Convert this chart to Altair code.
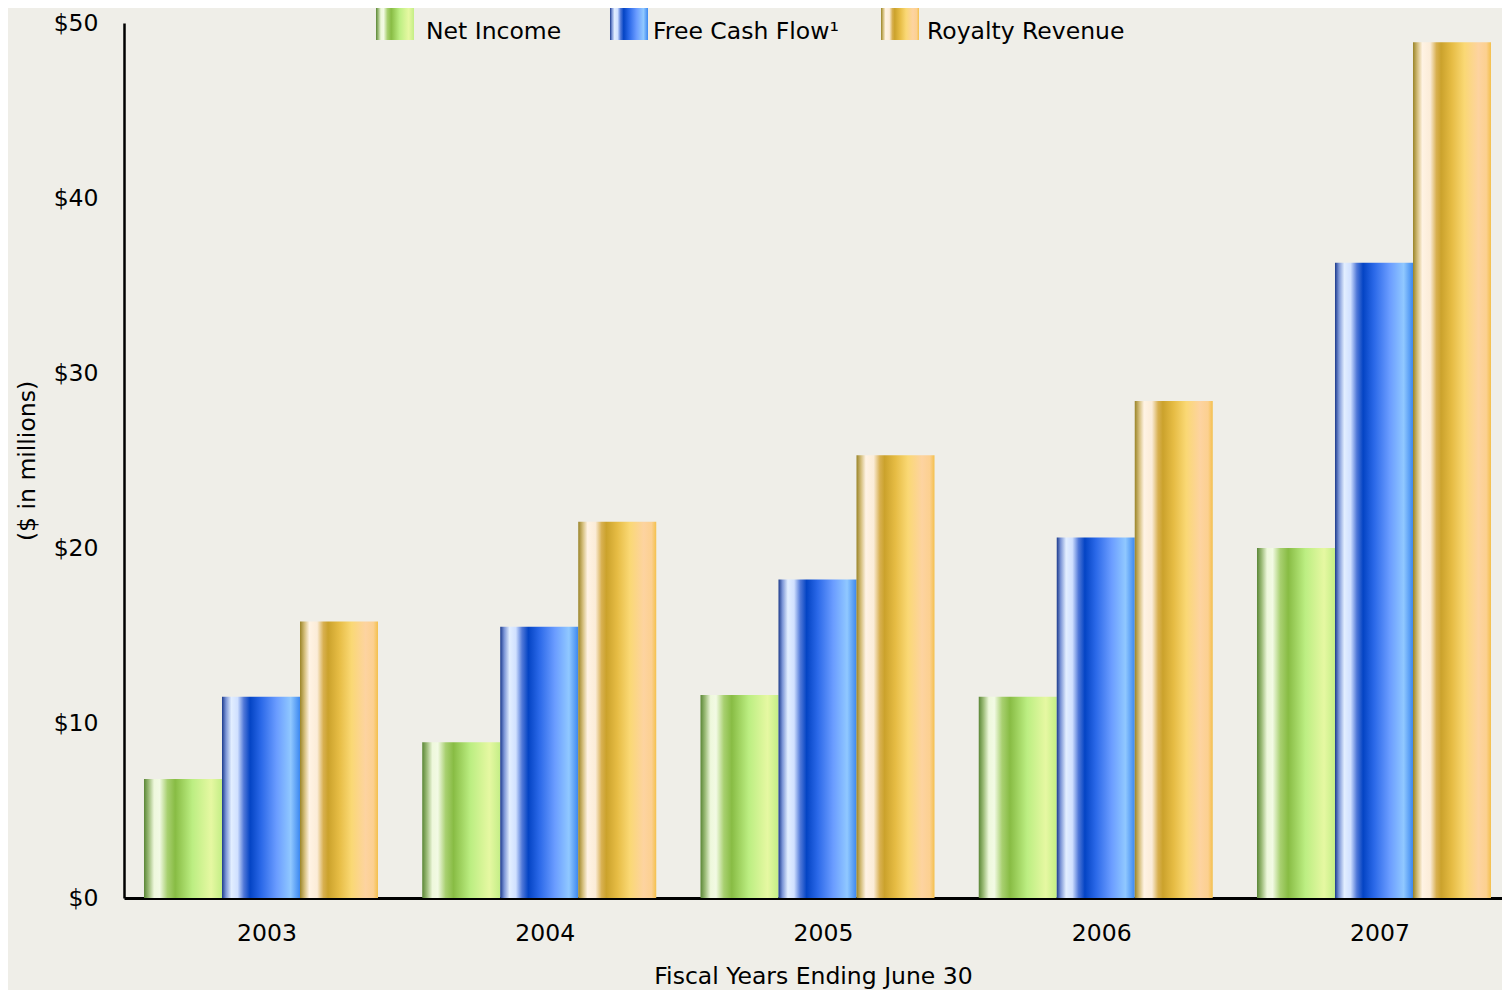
import altair as alt
import pandas as pd

years = ["2003", "2004", "2005", "2006", "2007"]
series = ["Net Income", "Free Cash Flow¹", "Royalty Revenue"]
net_income = [6.8, 8.9, 11.6, 11.5, 20.0]
free_cash_flow = [11.5, 15.5, 18.2, 20.6, 36.3]
royalty_revenue = [15.8, 21.5, 25.3, 28.4, 48.9]

rows = []
for name, vals in zip(series, [net_income, free_cash_flow, royalty_revenue]):
    for y, v in zip(years, vals):
        rows.append({"year": y, "series": name, "value": v})
df = pd.DataFrame(rows)

FONT = "DejaVu Sans"
FS = 23.5

def grad(stops):
    return {"gradient": "linear", "x1": 0, "x2": 1, "y1": 0, "y2": 0,
            "stops": [{"offset": o, "color": c} for o, c in stops]}

g_green = grad([(0, "#5a8636"), (0.06, "#9cbc78"), (0.13, "#eef8dc"), (0.2, "#f2fae4"),
                (0.3, "#a8d070"), (0.4, "#88bc44"), (0.62, "#bcee82"), (0.86, "#e6f8a2"), (1, "#c4ee86")])
g_blue = grad([(0, "#1c3a8c"), (0.05, "#7a94d6"), (0.12, "#e2eeff"), (0.2, "#d0e0ff"),
               (0.28, "#5078d8"), (0.36, "#0444c4"), (0.5, "#2a68e8"), (0.7, "#6a9cff"),
               (0.88, "#90c8ff"), (1, "#3c88f0")])
g_gold = grad([(0, "#9a8428"), (0.06, "#d6c07e"), (0.12, "#fff3e4"), (0.22, "#fbecd8"),
               (0.3, "#d8b050"), (0.36, "#cba22c"), (0.5, "#e6bc44"), (0.66, "#fad874"),
               (0.84, "#fdd3a0"), (0.94, "#fcd090"), (1, "#f4c04c")])
grads = [g_green, g_blue, g_gold]
legend_x = [247, 481, 752]
label_offsets = [7, 0, 3]

# swatch 38x32, raised so that label baseline sits near the swatch bottom
SWATCH = "M-0.7917,-1H0.7917V0.3333H-0.7917Z"

x_enc = alt.X("year:N", sort=years,
              scale=alt.Scale(paddingInner=0.159, paddingOuter=0.0557, align=0.645),
              axis=alt.Axis(title="Fiscal Years Ending June 30", labelAngle=0, ticks=False,
                            domainColor="black", domainWidth=3, labelPadding=23,
                            labelOffset=6, titlePadding=20))
xo_enc = alt.XOffset("series:N", sort=series,
                     scale=alt.Scale(domain=series, paddingInner=0, paddingOuter=0))
y_enc = alt.Y("value:Q",
              scale=alt.Scale(domain=[0, 50], nice=False),
              axis=alt.Axis(title="($ in millions)", values=[0, 10, 20, 30, 40, 50],
                            labelExpr="'$' + datum.value", ticks=False, grid=False,
                            domainColor="black", domainWidth=2.5, labelPadding=26,
                            titlePadding=14))

layers = []
for s, g, lx, lo in zip(series, grads, legend_x, label_offsets):
    layers.append(
        alt.Chart(df).transform_filter(alt.datum.series == s)
        .mark_bar(fill=g, strokeWidth=0)
        .encode(
            x=x_enc, xOffset=xo_enc, y=y_enc,
            opacity=alt.Opacity("series:N", scale=alt.Scale(domain=[s], range=[1]),
                                legend=alt.Legend(orient="none", legendX=lx, legendY=-15,
                                                  title=None,
                                                  symbolType=SWATCH,
                                                  symbolSize=2304, symbolStrokeWidth=0,
                                                  labelFont=FONT, labelFontSize=FS,
                                                  labelColor="black", labelOffset=lo,
                                                  padding=0, labelLimit=400)),
        )
    )

chart = alt.layer(*layers).resolve_scale(opacity="independent").resolve_legend(
    opacity="independent"
).properties(
    width=1378, height=875, background="#efeee8",
    padding={"left": 7, "top": 0, "right": 0, "bottom": 3},
).configure_view(stroke=None).configure_axis(
    labelFont=FONT, labelFontSize=FS, labelColor="black",
    titleFont=FONT, titleFontSize=FS, titleColor="black", titleFontWeight="normal",
)

chart.save("out.html", embed_options={"renderer": "svg", "actions": False})
